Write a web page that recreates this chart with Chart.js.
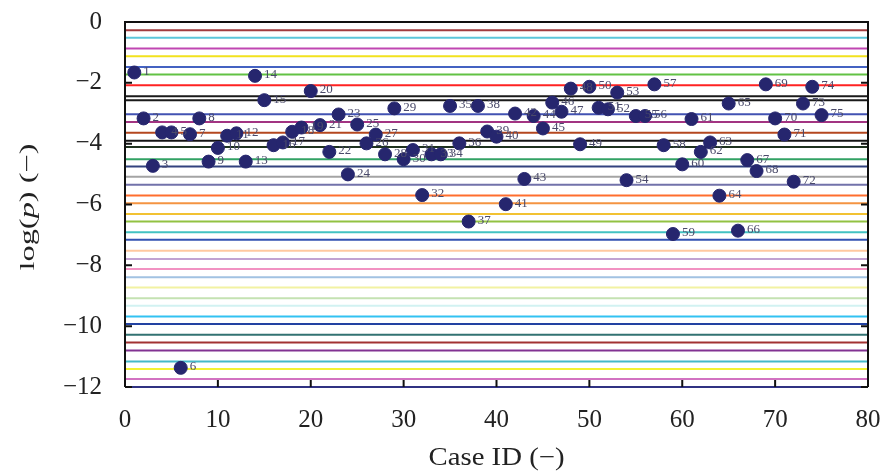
<!DOCTYPE html>
<html>
<head>
<meta charset="utf-8">
<script src="https://cdn.jsdelivr.net/npm/chart.js@4.4.1/dist/chart.umd.min.js"></script>
<style>
  html, body { margin: 0; padding: 0; background: #fff; }
  #wrap { width: 885px; height: 475px; }
</style>
</head>
<body>
<div id="wrap"><canvas id="pChart" width="885" height="475"></canvas></div>
<script>
// case numbers and their log(p) values
const caseIds = [1, 2, 3, 4, 5, 6, 7, 8, 9, 10, 11, 12, 13, 14, 15, 16, 17, 18, 19, 20,
  21, 22, 23, 24, 25, 26, 27, 28, 29, 30, 31, 32, 33, 34, 35, 36, 37, 38, 39, 40,
  41, 42, 43, 44, 45, 46, 47, 48, 49, 50, 51, 52, 53, 54, 55, 56, 57, 58, 59, 60,
  61, 62, 63, 64, 65, 66, 67, 68, 69, 70, 71, 72, 73, 74, 75];
const logP = [-1.66, -3.17, -4.73, -3.63, -3.63, -11.37, -3.69, -3.17, -4.59, -4.14,
  -3.74, -3.66, -4.59, -1.77, -2.57, -4.05, -3.96, -3.61, -3.47, -2.27,
  -3.39, -4.27, -3.04, -5.01, -3.37, -3.99, -3.70, -4.35, -2.84, -4.51,
  -4.21, -5.69, -4.35, -4.35, -2.76, -3.99, -6.56, -2.76, -3.60, -3.77,
  -5.99, -3.01, -5.16, -3.09, -3.50, -2.65, -2.95, -2.19, -4.02, -2.13,
  -2.82, -2.87, -2.32, -5.20, -3.09, -3.09, -2.05, -4.05, -6.97, -4.68,
  -3.19, -4.27, -3.96, -5.71, -2.68, -6.86, -4.54, -4.90, -2.05, -3.17,
  -3.70, -5.25, -2.68, -2.13, -3.06];

// horizontal reference levels and their colours
const refLevels = [-0.27, -0.52, -0.87, -1.13, -1.48, -1.73, -2.08, -2.44, -2.57, -3.03,
  -3.29, -3.64, -3.90, -4.11, -4.51, -4.75, -5.09, -5.35, -5.70, -5.96,
  -6.31, -6.56, -6.91, -7.16, -7.52, -7.79, -8.12, -8.39, -8.73, -9.08,
  -9.33, -9.68, -9.93, -10.28, -10.54, -10.80, -11.16, -11.41, -11.74, -12.0];
const refColors = ['#a23b3e', '#5cc6da', '#c046b2', '#f2e21e', '#4462c2', '#62c244', '#ff2222', '#1a1a1a', '#1a1a1a', '#4252b2',
  '#a23482', '#b4471f', '#141414', '#1e321e', '#32a264', '#32427e', '#a4a4a4', '#7272aa', '#ff6e2e', '#f49442',
  '#f2c232', '#92c242', '#42c2c2', '#3252b2', '#ffc8a0', '#c2a2d2', '#f292c2', '#a2c2e2', '#f2f2a2', '#c4e2b2',
  '#d2f2f2', '#32c2f2', '#2242a2', '#327272', '#a23232', '#823292', '#44bac8', '#f2f232', '#d272c2', '#303282'];

const xTicks = [0, 10, 20, 30, 40, 50, 60, 70, 80];
const yTicks = [0, -2, -4, -6, -8, -10, -12];

const serif = "'Liberation Serif', 'DejaVu Serif', serif";

const levelSets = refLevels.map((v, i) => ({
  type: 'line',
  data: [{ x: 0, y: v }, { x: 80, y: v }],
  borderColor: refColors[i],
  borderWidth: 2,
  pointRadius: 0,
  order: 2
}));

// draws a title made of [text, style] runs, squeezed or stretched to a given length
function drawTitle(ctx, runs, size, cx, cy, length, angle) {
  ctx.save();
  ctx.translate(cx, cy);
  ctx.rotate(angle);
  ctx.fillStyle = '#222';
  ctx.textBaseline = 'middle';
  let total = 0;
  runs.forEach(r => { ctx.font = r[1] + size + 'px ' + serif; total += ctx.measureText(r[0]).width; });
  ctx.scale(length / total, 1);
  let x0 = -total / 2;
  runs.forEach(r => {
    ctx.font = r[1] + size + 'px ' + serif;
    ctx.fillText(r[0], x0, 0);
    x0 += ctx.measureText(r[0]).width;
  });
  ctx.restore();
}

// numbers beside each point, inner tick marks, frame and axis titles
const decor = {
  id: 'decor',
  afterDatasetsDraw(chart) {
    const ctx = chart.ctx;
    const meta = chart.getDatasetMeta(chart.data.datasets.length - 1);
    ctx.save();
    ctx.font = '13px ' + serif;
    ctx.fillStyle = '#4a4a6a';
    ctx.textBaseline = 'middle';
    ctx.textAlign = 'left';
    meta.data.forEach((pt, i) => {
      ctx.fillText(String(caseIds[i]), pt.x + 9, pt.y - 1);
    });
    ctx.restore();
  },
  afterDraw(chart) {
    const ctx = chart.ctx;
    const a = chart.chartArea;
    const xs = chart.scales.x, ys = chart.scales.y;
    ctx.save();
    ctx.lineWidth = 2;
    ctx.strokeStyle = '#111';
    ctx.beginPath();
    ctx.moveTo(a.left, a.bottom);
    ctx.lineTo(a.left, a.top);
    ctx.lineTo(a.right, a.top);
    ctx.lineTo(a.right, a.bottom);
    ctx.stroke();
    ctx.strokeStyle = '#303282';
    ctx.beginPath();
    ctx.moveTo(a.left, a.bottom);
    ctx.lineTo(a.right, a.bottom);
    ctx.stroke();
    ctx.strokeStyle = '#111';
    ctx.beginPath();
    xTicks.forEach(t => {
      const px = xs.getPixelForValue(t);
      ctx.moveTo(px, a.bottom);
      ctx.lineTo(px, a.bottom - 7);
    });
    yTicks.forEach(t => {
      const py = ys.getPixelForValue(t);
      ctx.moveTo(a.left, py);
      ctx.lineTo(a.left + 7, py);
      ctx.moveTo(a.right, py);
      ctx.lineTo(a.right - 7, py);
    });
    ctx.stroke();
    ctx.restore();

    drawTitle(ctx, [['Case ID (\u2212)', '']], 25, (a.left + a.right) / 2, 458, 136, 0);
    drawTitle(ctx, [['log(', ''], ['p', 'italic '], [') (\u2212)', '']], 22, 28, 207, 127, -Math.PI / 2);
  }
};

const fmt = v => String(v).replace('-', '\u2212');

new Chart(document.getElementById('pChart'), {
  type: 'scatter',
  data: {
    datasets: levelSets.concat([{
      type: 'scatter',
      data: caseIds.map((c, i) => ({ x: c, y: logP[i] })),
      backgroundColor: '#26266e',
      borderColor: '#26266e',
      pointRadius: 6.5,
      pointHoverRadius: 6.5,
      order: 1
    }])
  },
  options: {
    responsive: false,
    devicePixelRatio: 1,
    animation: false,
    layout: { padding: { top: 22, right: 17, left: 0, bottom: 0 } },
    plugins: { legend: { display: false }, tooltip: { enabled: false } },
    scales: {
      x: {
        type: 'linear',
        min: 0, max: 80,
        afterBuildTicks: s => { s.ticks = xTicks.map(v => ({ value: v })); },
        ticks: { font: { family: serif, size: 25 }, color: '#222', padding: 10, callback: fmt, maxRotation: 0 },
        grid: { display: false },
        border: { display: false },
        afterFit: s => { s.height = 88; s.paddingLeft = 0; s.paddingRight = 0; }
      },
      y: {
        type: 'linear',
        min: -12, max: 0,
        afterBuildTicks: s => { s.ticks = yTicks.map(v => ({ value: v })); },
        ticks: { font: { family: serif, size: 25 }, color: '#222', padding: 15, callback: fmt },
        grid: { display: false },
        border: { display: false },
        afterFit: s => { s.width = 125; s.paddingTop = 0; s.paddingBottom = 0; }
      }
    }
  },
  plugins: [decor]
});
</script>
</body>
</html>
